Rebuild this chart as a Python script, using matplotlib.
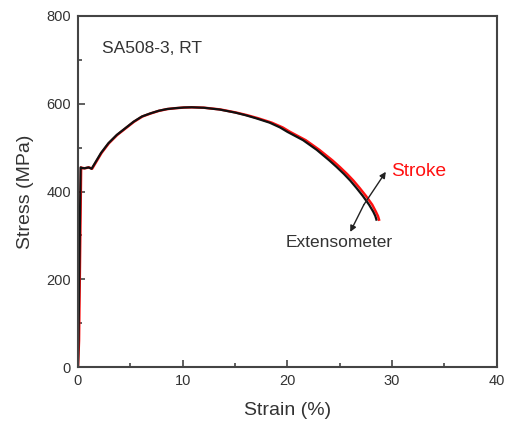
import matplotlib
matplotlib.use("Agg")
import matplotlib.pyplot as plt
from matplotlib.ticker import MultipleLocator

plt.rcParams["font.family"] = ["Liberation Sans", "DejaVu Sans"]

# extensometer curve (strain %, stress MPa)
ext_strain = [0, 0.05, 0.25, 0.3, 0.6, 1.0, 1.3, 1.5, 2.2, 2.9, 3.7, 4.5, 5.3, 6.1,
              6.9, 7.7, 8.5, 9.3, 10.1, 10.85, 12.0, 13.5, 15.0, 16.0, 17.0, 18.3,
              19.3, 20.0, 21.5, 22.8, 24.0, 24.7, 25.4, 26.0, 26.6, 27.2, 27.8,
              28.2, 28.4, 28.5]
ext_stress = [0, 60, 455, 454, 453, 455, 452, 460, 488, 510, 529, 544, 559, 571,
              578, 584, 588, 590, 591.5, 592, 591, 587, 580, 574, 567, 557,
              546, 536, 517, 495, 471, 456, 440, 425, 408, 390, 370,
              354, 344, 336]

# stroke curve
str_strain = [0, 0.1, 0.3, 0.35, 0.65, 1.05, 1.35, 1.55, 2.25, 2.95, 3.75, 4.55, 5.35,
              6.15, 6.95, 7.75, 8.55, 9.35, 10.15, 10.9, 12.05, 13.6, 15.1, 16.15,
              17.2, 18.5, 19.55, 20.25, 21.75, 23.05, 24.3, 25.0, 25.7, 26.3, 26.9,
              27.5, 28.1, 28.45, 28.65, 28.75]
str_stress = [0, 60, 455, 454, 453, 455, 452, 460, 488, 510, 529, 544, 559, 571,
              578, 584, 588, 590, 591.5, 592, 591, 587, 580, 574, 567, 557,
              546, 536, 517, 495, 471, 456, 440, 425, 408, 390, 370,
              354, 344, 336]

fig = plt.figure(figsize=(5.08, 4.21), dpi=100)
ax = fig.add_axes([0.1535, 0.128, 0.8245, 0.834])

ax.plot(str_strain, str_stress, color="#ff1010", linewidth=1.8)
ax.plot(ext_strain, ext_stress, color="#111111", linewidth=1.6)

ax.set_xlim(0, 40)
ax.set_ylim(0, 800)
ax.xaxis.set_major_locator(MultipleLocator(10))
ax.xaxis.set_minor_locator(MultipleLocator(5))
ax.yaxis.set_major_locator(MultipleLocator(200))
ax.yaxis.set_minor_locator(MultipleLocator(100))
ax.tick_params(which="both", direction="in", colors="#444444", labelcolor="#333333",
               labelsize=10.5, width=1.2)
ax.tick_params(which="major", length=5, pad=5)
ax.tick_params(which="minor", length=3)
for s in ax.spines.values():
    s.set_linewidth(1.5)
    s.set_color("#444444")

ax.set_xlabel("Strain (%)", fontsize=14, color="#333333", labelpad=10)
ax.set_ylabel("Stress (MPa)", fontsize=14, color="#333333", labelpad=9)

ax.text(2.3, 725, "SA508-3, RT", fontsize=12.5, color="#333333", va="center")
ax.text(29.9, 445, "Stroke", fontsize=13.8, color="#ff1010", va="center")
ax.text(24.9, 283, "Extensometer", fontsize=12.5, color="#333333", va="center", ha="center")
ax.annotate("", xy=(29.4, 445), xytext=(27.3, 370),
            arrowprops=dict(arrowstyle="-|>", color="#222222", lw=1.0,
                            mutation_scale=9, shrinkA=0, shrinkB=0))
ax.annotate("", xy=(26.0, 308), xytext=(27.3, 370),
            arrowprops=dict(arrowstyle="-|>", color="#222222", lw=1.0,
                            mutation_scale=9, shrinkA=0, shrinkB=0))

fig.savefig("out.png", dpi=100)
